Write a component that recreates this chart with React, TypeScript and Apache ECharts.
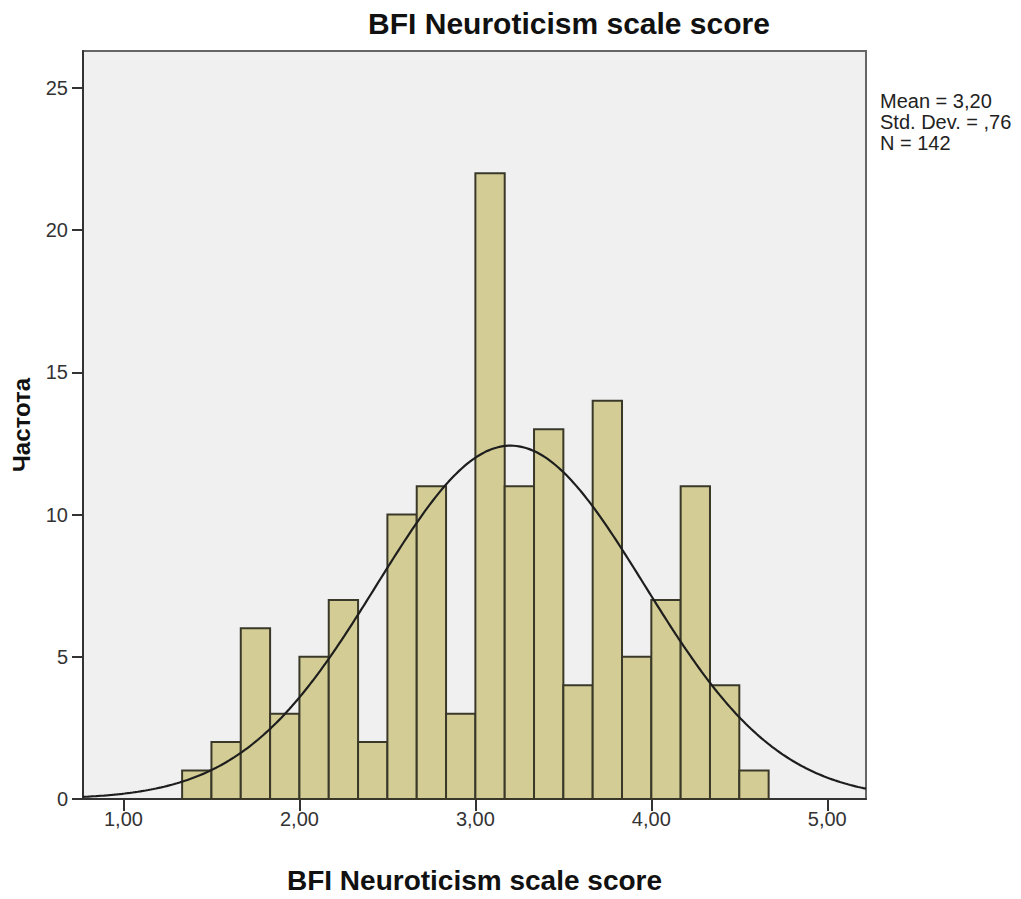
import React, { useEffect, useRef } from "react";
import * as echarts from "echarts";

// Histogram data (frequencies per bin)
const counts = [1, 2, 6, 3, 5, 7, 2, 10, 11, 3, 22, 11, 13, 4, 14, 5, 7, 11, 4, 1];
const binStart = 4 / 3;
const binWidth = 1 / 6;

// Summary statistics shown on the chart
const mean = 3.2;
const sd = 0.76;
const n = 142;
const statsLines = ["Mean = 3,20", "Std. Dev. = ,76", "N = 142"];

// Axis ticks / extents
const xTicks = [1, 2, 3, 4, 5];
const yTicks = [0, 5, 10, 15, 20, 25];
const xMin = 0.77;
const xMax = 5.22;
const yMax = 26.3;

const titleText = "BFI Neuroticism scale score";
const xName = "BFI Neuroticism scale score";
const yName = "Частота";

const FONT = "Arial, 'Liberation Sans', Helvetica, sans-serif";

export default function App() {
  const ref = useRef<HTMLDivElement>(null);

  useEffect(() => {
    if (!ref.current) return;
    const chart = echarts.init(ref.current, undefined, { renderer: "svg" });

    const bars = counts.map((c, i) => [binStart + i * binWidth, binStart + (i + 1) * binWidth, c]);

    // fitted normal curve from the displayed statistics
    const peak = (n * binWidth) / (sd * Math.sqrt(2 * Math.PI));
    const curve: number[][] = [];
    const steps = 300;
    for (let k = 0; k <= steps; k++) {
      const x = xMin + ((xMax - xMin) * k) / steps;
      const z = (x - mean) / sd;
      curve.push([x, peak * Math.exp(-0.5 * z * z)]);
    }

    chart.setOption({
      animation: false,
      grid: {
        left: 83,
        top: 51,
        right: 155,
        bottom: 84,
        show: true,
        backgroundColor: "#f0f0f0",
        borderColor: "#666",
        borderWidth: 2,
      },
      xAxis: {
        type: "value",
        min: xMin,
        max: xMax,
        name: xName,
        nameLocation: "middle",
        nameGap: 67,
        nameTextStyle: { fontFamily: FONT, fontWeight: "bold", fontSize: 28, color: "#111" },
        axisLine: { show: true, onZero: false, lineStyle: { color: "#333", width: 2 } },
        axisTick: { show: true, length: 12, customValues: xTicks, lineStyle: { color: "#333", width: 2 } },
        axisLabel: {
          customValues: xTicks,
          margin: 10,
          fontFamily: FONT,
          fontSize: 20,
          color: "#333",
          formatter: (v: number) => v.toFixed(2).replace(".", ","),
        },
        splitLine: { show: false },
      },
      yAxis: {
        type: "value",
        min: 0,
        max: yMax,
        name: yName,
        nameLocation: "middle",
        nameGap: 50,
        nameRotate: 90,
        nameTextStyle: { fontFamily: FONT, fontWeight: "bold", fontSize: 24, color: "#111" },
        axisLine: { show: true, onZero: false, lineStyle: { color: "#333", width: 2 } },
        axisTick: { show: true, length: 11, customValues: yTicks, lineStyle: { color: "#333", width: 2 } },
        axisLabel: {
          customValues: yTicks,
          margin: 15,
          fontFamily: FONT,
          fontSize: 20,
          color: "#333",
        },
        splitLine: { show: false },
      },
      graphic: [
        {
          type: "text",
          x: 569,
          y: 8,
          style: {
            text: titleText,
            fontFamily: FONT,
            fontWeight: "bold",
            fontSize: 30,
            fill: "#111",
            align: "center",
            verticalAlign: "top",
          },
        },
        {
          type: "text",
          x: 880,
          y: 90,
          style: {
            text: statsLines.join("\n"),
            fontFamily: FONT,
            fontSize: 20,
            lineHeight: 21,
            fill: "#222",
          },
        },
      ],
      series: [
        {
          type: "custom",
          data: bars,
          encode: { x: [0, 1], y: 2 },
          renderItem: (params: any, api: any) => {
            const p0 = api.coord([api.value(0), 0]);
            const p1 = api.coord([api.value(1), api.value(2)]);
            return {
              type: "rect",
              shape: { x: p0[0], y: p1[1], width: p1[0] - p0[0], height: p0[1] - p1[1] },
              style: { fill: "#d3cd95", stroke: "#3a3828", lineWidth: 2 },
            };
          },
          z: 2,
        },
        {
          type: "line",
          data: curve,
          showSymbol: false,
          symbol: "none",
          lineStyle: { color: "#1e1e1e", width: 2.2 },
          z: 3,
        },
      ],
    });

    return () => chart.dispose();
  }, []);

  return (
    <div
      ref={ref}
      style={{ position: "absolute", left: 0, top: 0, width: 1021, height: 899, background: "#fff" }}
    />
  );
}
